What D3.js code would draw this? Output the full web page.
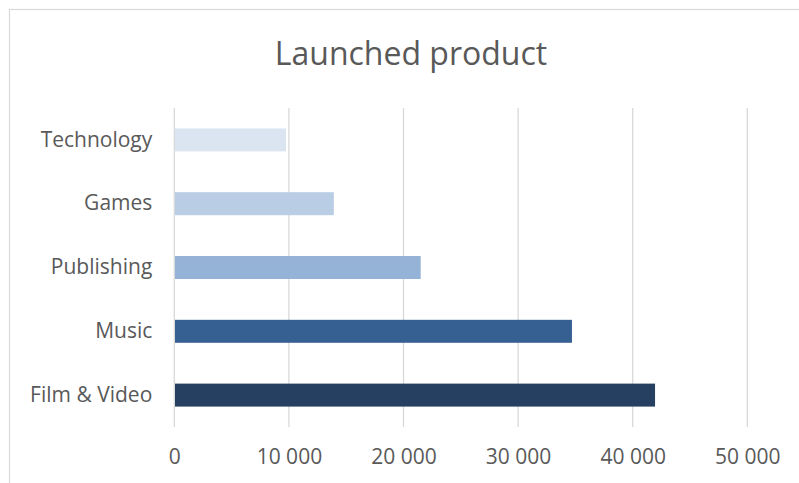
<!DOCTYPE html>
<html>
<head>
<meta charset="utf-8">
<script src="https://cdn.jsdelivr.net/npm/d3@7"></script>
<style>
  html, body { margin: 0; padding: 0; background: #ffffff; }
  svg { display: block; }
  text { font-family: "Open Sans", "Noto Sans", sans-serif; fill: #595959; }
</style>
</head>
<body>
<svg id="chart" width="799" height="483"></svg>
<script>
// Launched products per category
const categories = ["Technology", "Games", "Publishing", "Music", "Film & Video"];
const launched = [9750, 13920, 21500, 34700, 41950];
const barColors = ["#dbe5f1", "#b9cde5", "#95b3d7", "#366092", "#254061"];
const tickValues = [0, 10000, 20000, 30000, 40000, 50000];
const tickLabels = ["0", "10 000", "20 000", "30 000", "40 000", "50 000"];
const chartTitle = "Launched product";

const svg = d3.select("#chart");

// chart frame (runs past the right and bottom edges)
svg.append("rect")
  .attr("x", 9.5).attr("y", 9.5)
  .attr("width", 820).attr("height", 500)
  .attr("fill", "#ffffff")
  .attr("stroke", "#d9d9d9")
  .attr("stroke-width", 1.2);

const plot = { left: 174.3, right: 747.3, top: 108, bottom: 427 };

const x = d3.scaleLinear()
  .domain([0, 50000])
  .range([plot.left, plot.right]);

const y = d3.scaleBand()
  .domain(categories)
  .range([plot.top, plot.bottom])
  .padding(0);

const barH = y.bandwidth() * 0.36;

// title
svg.append("text")
  .attr("x", 411)
  .attr("y", 65)
  .attr("text-anchor", "middle")
  .style("font-size", "32px")
  .text(chartTitle);

// vertical gridlines
svg.append("g")
  .selectAll("line")
  .data(tickValues)
  .join("line")
  .attr("x1", d => x(d)).attr("x2", d => x(d))
  .attr("y1", plot.top).attr("y2", plot.bottom)
  .attr("stroke", "#d9d9d9")
  .attr("stroke-width", 1.3);

// bars
svg.append("g")
  .selectAll("rect")
  .data(categories)
  .join("rect")
  .attr("x", x(0) + 0.7)
  .attr("y", d => y(d) + (y.bandwidth() - barH) / 2)
  .attr("width", (d, i) => x(launched[i]) - x(0) - 0.7)
  .attr("height", barH)
  .attr("fill", (d, i) => barColors[i]);

// category axis
const yAxis = d3.axisLeft(y).tickSize(0).tickPadding(0);
const gy = svg.append("g")
  .attr("transform", `translate(${plot.left - 22},0)`)
  .call(yAxis);
gy.select(".domain").remove();
gy.selectAll("text")
  .attr("fill", "#595959")
  .style("font-size", "21px")
  .style("font-family", "'Open Sans', 'Noto Sans', sans-serif");

// value axis
const xAxis = d3.axisBottom(x)
  .tickValues(tickValues)
  .tickFormat((d, i) => tickLabels[i])
  .tickSize(0)
  .tickPadding(0);
const gx = svg.append("g")
  .attr("transform", `translate(0,${plot.bottom + 22})`)
  .call(xAxis);
gx.select(".domain").remove();
gx.selectAll("text")
  .attr("fill", "#595959")
  .style("font-size", "21px")
  .style("font-family", "'Open Sans', 'Noto Sans', sans-serif");
</script>
</body>
</html>
